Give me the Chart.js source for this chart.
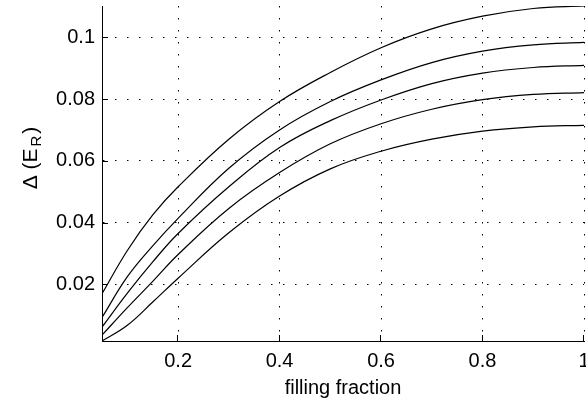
<!DOCTYPE html>
<html>
<head>
<meta charset="utf-8">
<script src="https://cdn.jsdelivr.net/npm/chart.js@4"></script>
<style>
  html, body { margin: 0; padding: 0; background: #fff; }
</style>
</head>
<body>
<canvas id="chart" width="586" height="402"></canvas>
<script>
// filling fraction samples (x) and the five curves, top to bottom
const fillingFraction = [0.05, 0.1, 0.15, 0.2, 0.3, 0.4, 0.5, 0.6, 0.7, 0.8, 0.9, 1.0];
const curve1 = [0.0170, 0.0310, 0.0425, 0.0516, 0.0670, 0.0792, 0.0886, 0.0966, 0.1027, 0.1068, 0.1093, 0.1101];
const curve2 = [0.0093, 0.0225, 0.0325, 0.0414, 0.0576, 0.0700, 0.0792, 0.0862, 0.0918, 0.0955, 0.0975, 0.0983];
const curve3 = [0.0062, 0.0172, 0.0273, 0.0365, 0.0516, 0.0643, 0.0730, 0.0797, 0.0850, 0.0884, 0.0902, 0.0909];
const curve4 = [0.0036, 0.0125, 0.0210, 0.0297, 0.0446, 0.0562, 0.0655, 0.0720, 0.0767, 0.0798, 0.0815, 0.0821];
const curve5 = [0.0017, 0.0068, 0.0143, 0.0220, 0.0367, 0.0486, 0.0574, 0.0631, 0.0670, 0.0696, 0.0710, 0.0715];

const xTicks = [0.2, 0.4, 0.6, 0.8, 1];
const yTicks = [0.02, 0.04, 0.06, 0.08, 0.1];
const xTitle = "filling fraction";
const yTitleMain = "\u0394 (E";
const yTitleSub = "R";
const yTitleEnd = ")";

const allCurves = [curve1, curve2, curve3, curve4, curve5];
const allValues = allCurves.flat();

Chart.defaults.font.family = "'Liberation Sans', Arial, sans-serif";
Chart.defaults.font.size = 20;
Chart.defaults.color = "#000";

// MATLAB-like inward tick marks and the y label with subscript
const matlabAxes = {
  id: "matlabAxes",
  afterDraw(chart) {
    const ctx = chart.ctx;
    const xs = chart.scales.x;
    const ys = chart.scales.y;
    const area = chart.chartArea;
    ctx.save();
    ctx.strokeStyle = "#000";
    ctx.lineWidth = 1;
    ctx.beginPath();
    xTicks.forEach((v) => {
      const px = Math.round(xs.getPixelForValue(v)) - 0.5;
      ctx.moveTo(px, area.bottom);
      ctx.lineTo(px, area.bottom - 6);
    });
    yTicks.forEach((v) => {
      const py = Math.round(ys.getPixelForValue(v)) + 0.5;
      ctx.moveTo(area.left, py);
      ctx.lineTo(area.left + 6, py);
    });
    ctx.stroke();

    // y axis title, rotated
    const mainFont = "21px 'Liberation Sans', Arial, sans-serif";
    const subFont = "15px 'Liberation Sans', Arial, sans-serif";
    const gap = 2;
    ctx.font = mainFont;
    const w1 = ctx.measureText(yTitleMain).width;
    const w3 = ctx.measureText(yTitleEnd).width;
    ctx.font = subFont;
    const w2 = ctx.measureText(yTitleSub).width;
    const total = w1 + w2 + w3 + gap * 2;
    ctx.translate(37, 158);
    ctx.rotate(-Math.PI / 2);
    ctx.fillStyle = "#000";
    ctx.textBaseline = "alphabetic";
    ctx.textAlign = "left";
    let tx = -total / 2;
    ctx.font = mainFont;
    ctx.fillText(yTitleMain, tx, 0);
    tx += w1 + gap;
    ctx.font = subFont;
    ctx.fillText(yTitleSub, tx, 4);
    tx += w2 + gap;
    ctx.font = mainFont;
    ctx.fillText(yTitleEnd, tx, 0);
    ctx.restore();
  },
};

const datasets = allCurves.map((curve) => ({
  data: curve.map((v, i) => ({ x: fillingFraction[i], y: v })),
  borderColor: "#000",
  borderWidth: 1.2,
  pointRadius: 0,
  fill: false,
  tension: 0.4,
}));

new Chart(document.getElementById("chart"), {
  type: "line",
  data: { datasets: datasets },
  plugins: [matlabAxes],
  options: {
    responsive: false,
    animation: false,
    layout: { padding: { top: 6, right: 2, left: 0, bottom: 0 } },
    plugins: { legend: { display: false }, tooltip: { enabled: false } },
    scales: {
      x: {
        type: "linear",
        min: fillingFraction[0],
        max: fillingFraction[fillingFraction.length - 1],
        afterBuildTicks: (scale) => {
          scale.ticks = xTicks.map((v) => ({ value: v }));
        },
        afterFit: (scale) => {
          scale.height = 61;
          scale.paddingLeft = 0;
          scale.paddingRight = 0;
        },
        ticks: {
          padding: 8,
          maxRotation: 0,
          callback: (v) => String(v),
        },
        grid: { color: "#000", lineWidth: 1, drawTicks: false },
        border: { display: true, color: "#000", width: 1, dash: [1.5, 10.5] },
        title: { display: true, text: xTitle, padding: { top: 0, bottom: 2 } },
      },
      y: {
        type: "linear",
        min: Math.min(...allValues),
        max: Math.max(...allValues),
        afterBuildTicks: (scale) => {
          scale.ticks = yTicks.map((v) => ({ value: v }));
        },
        afterFit: (scale) => {
          scale.width = 102;
          scale.paddingTop = 0;
          scale.paddingBottom = 0;
        },
        ticks: {
          padding: 7,
          callback: (v) => String(v),
        },
        grid: { color: "#000", lineWidth: 1, drawTicks: false },
        border: { display: true, color: "#000", width: 1, dash: [1.5, 10.5] },
      },
    },
  },
});
</script>
</body>
</html>
